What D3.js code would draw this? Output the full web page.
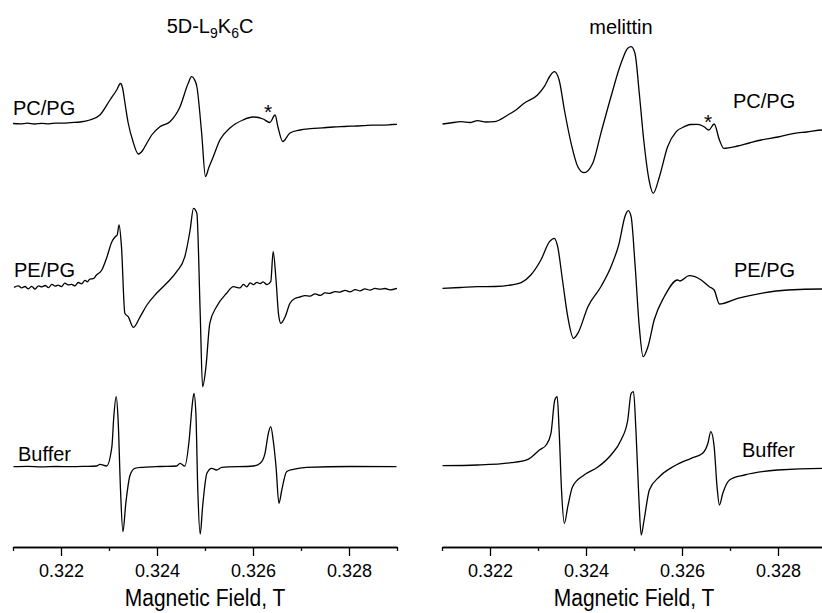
<!DOCTYPE html>
<html>
<head>
<meta charset="UTF-8">
<title>EPR spectra</title>
<script src="https://cdn.jsdelivr.net/npm/d3@7"></script>
<style>
    body { margin: 0; background: #fff; }
    svg { display: block; font-family: Arial, "Liberation Sans", sans-serif; }
    .trace { fill: none; stroke: #000; stroke-width: 1.3; stroke-linejoin: round; }
    .axis path, .axis line { stroke: #000; stroke-width: 1.3; }
    .axis text { font-size: 18px; fill: #000; }
</style>
</head>
<body>
<div id="chart"></div>
<script>
    // field values in T, intensity in arbitrary units (relative to each trace baseline)
    const fieldTicks = [0.322, 0.324, 0.326, 0.328];
    const minorTicks = [0.321, 0.323, 0.325, 0.327, 0.329];
    const seriesNames = ["PC/PG", "PE/PG", "Buffer"];

    const l9k6cPCPG = [[0.32100,0],[0.32115,-0.4],[0.32130,0.3],[0.32145,-0.5],[0.32160,0.2],[0.32175,-0.3],[0.32190,0.4],[0.32205,0.3],[0.32220,0.9],[0.32240,1.5],[0.32260,3.5],[0.32281,8.5],[0.32302,23.5],[0.32316,33.5],[0.32324,40],[0.32328,36],[0.32334,18],[0.32340,0.5],[0.32350,-18],[0.32361,-30.5],[0.32370,-27],[0.32379,-19.5],[0.32389,-11.5],[0.32406,-3.2],[0.32427,1.8],[0.32448,16.8],[0.32465,40.2],[0.32472,46.8],[0.32478,44],[0.32483,37],[0.32493,-9.5],[0.32501,-53],[0.32508,-44],[0.32517,-33.5],[0.32531,-16.5],[0.32552,-4.5],[0.32579,3.5],[0.32600,6.5],[0.32621,4.5],[0.32635,1],[0.32646,8.5],[0.32652,-3.5],[0.32662,-18],[0.32677,-9.5],[0.32698,-6.5],[0.32720,-5.2],[0.32745,-4.3],[0.32767,-3.5],[0.32790,-3.0],[0.32810,-2.6],[0.32830,-2.2],[0.32850,-1.6],[0.32870,-1.6],[0.32890,-1.0],[0.32900,-0.8]];

    const l9k6cPEPG = [[0.32102,-0.3],[0.32111,1.2],[0.32118,-0.8],[0.32125,0.5],[0.32132,-1.9],[0.32139,0.6],[0.32146,-2.1],[0.32153,1.2],[0.32160,0.2],[0.32167,1.5],[0.32174,-0.6],[0.32181,2.6],[0.32188,0.9],[0.32194,1.8],[0.32201,0.4],[0.32208,3.9],[0.32215,2.1],[0.32222,2.6],[0.32229,1.1],[0.32236,4.5],[0.32243,3.2],[0.32250,6.6],[0.32255,5.2],[0.32260,7.9],[0.32267,8.3],[0.32274,12],[0.32285,17],[0.32295,29],[0.32306,45.3],[0.32313,50.3],[0.32317,52],[0.32321,62],[0.32326,40.3],[0.32333,-26.3],[0.32340,-29.7],[0.32351,-40.3],[0.32365,-29.7],[0.32379,-18],[0.32399,-6.3],[0.32420,3.7],[0.32441,15.3],[0.32458,30.3],[0.32469,57],[0.32476,78.7],[0.32483,73.7],[0.32490,-26.3],[0.32495,-99.7],[0.32502,-79.7],[0.32510,-36.3],[0.32524,-19.7],[0.32545,-6.3],[0.32559,0.3],[0.32573,-0.9],[0.32580,2.6],[0.32587,0.2],[0.32594,4.1],[0.32601,2.4],[0.32608,4.6],[0.32615,3.3],[0.32621,5.1],[0.32629,2.4],[0.32637,5.3],[0.32642,35.3],[0.32648,7],[0.32653,-26.3],[0.32658,-36.3],[0.32667,-29.7],[0.32677,-16.3],[0.32688,-11.3],[0.32698,-10],[0.32708,-8.6],[0.32719,-9.2],[0.32729,-6.8],[0.32740,-8.4],[0.32750,-5.9],[0.32760,-6.3],[0.32771,-4.6],[0.32781,-5.1],[0.32792,-3.3],[0.32802,-4.8],[0.32813,-2.6],[0.32823,-3.9],[0.32833,-1.8],[0.32844,-3.2],[0.32854,-1.4],[0.32865,-2.2],[0.32875,-1.5],[0.32885,-2.8],[0.32900,-1.3]];

    const l9k6cBuffer = [[0.32101,0],[0.32130,0.3],[0.32160,-0.2],[0.32190,0.2],[0.32220,0],[0.32250,0.3],[0.32274,0.7],[0.32281,2.4],[0.32295,0.7],[0.32306,20],[0.32310,50],[0.32315,70],[0.32319,46.7],[0.32324,-23.3],[0.32329,-65],[0.32335,-36.6],[0.32344,-8.3],[0.32354,-1.6],[0.32371,-0.6],[0.32406,0.2],[0.32441,0.7],[0.32448,3.4],[0.32458,0.7],[0.32467,26.7],[0.32473,60],[0.32477,73.4],[0.32481,53.4],[0.32485,-23.3],[0.32490,-67.3],[0.32495,-40],[0.32504,-6.6],[0.32514,-1.6],[0.32524,-3.3],[0.32535,-0.6],[0.32601,0.7],[0.32615,3.4],[0.32625,13.4],[0.32632,33.4],[0.32637,40],[0.32642,26.7],[0.32648,0],[0.32654,-36.6],[0.32660,-23.3],[0.32670,-5],[0.32684,-2.6],[0.32712,-0.6],[0.32802,0.2],[0.32899,0]];

    const melittinPCPG = [[0.32101,-0.5],[0.32117,0.5],[0.32140,1.8],[0.32158,1],[0.32174,2.8],[0.32192,1.5],[0.32209,1.8],[0.32237,8.5],[0.32254,13.5],[0.32271,20.2],[0.32299,28.5],[0.32313,36.8],[0.32325,47.5],[0.32334,51.8],[0.32344,43.5],[0.32355,13.5],[0.32369,-19.8],[0.32383,-43.2],[0.32396,-49.2],[0.32414,-39.8],[0.32431,-9.8],[0.32452,26.8],[0.32473,60.2],[0.32487,75.2],[0.32494,76.8],[0.32502,70.2],[0.32511,30.2],[0.32521,-19.8],[0.32532,-58.2],[0.32540,-69.8],[0.32553,-53.2],[0.32570,-23.2],[0.32588,-8.2],[0.32605,-3.2],[0.32617,-1],[0.32633,-0.8],[0.32646,-3.2],[0.32656,-6.5],[0.32667,-0.5],[0.32678,-16.5],[0.32687,-24.8],[0.32716,-22.5],[0.32740,-19.5],[0.32765,-16.5],[0.32800,-13.5],[0.32834,-9.8],[0.32860,-8.5],[0.32892,-6.5],[0.32900,-6.5]];

    const melittinPEPG = [[0.32101,-0.8],[0.32138,0],[0.32174,0.8],[0.32210,1],[0.32244,2.5],[0.32265,4.8],[0.32285,12.5],[0.32306,27.5],[0.32324,45.8],[0.32334,49.2],[0.32341,40.8],[0.32351,7.5],[0.32362,-29.2],[0.32374,-50.8],[0.32383,-45.8],[0.32404,-19.2],[0.32431,0.8],[0.32452,20.8],[0.32469,44.2],[0.32481,70.8],[0.32488,76.8],[0.32494,70.8],[0.32502,24.2],[0.32511,-39.2],[0.32519,-69.2],[0.32529,-59.2],[0.32542,-32.5],[0.32563,-9.2],[0.32591,7.5],[0.32596,6.5],[0.32615,11.8],[0.32640,7.5],[0.32657,0.8],[0.32667,-2.5],[0.32678,-16.5],[0.32716,-10.8],[0.32765,-5.8],[0.32820,-2.5],[0.32892,-1.5],[0.32900,-1.5]];

    const melittinBuffer = [[0.32101,-0.2],[0.32174,0.5],[0.32244,2.8],[0.32279,6.2],[0.32303,15.5],[0.32317,20.5],[0.32327,32.2],[0.32335,65.5],[0.32340,68.8],[0.32344,35.5],[0.32349,-24.5],[0.32355,-57.8],[0.32362,-41.2],[0.32372,-21.2],[0.32396,-9.5],[0.32424,-1.8],[0.32452,10.5],[0.32473,25.5],[0.32487,45.5],[0.32494,72.2],[0.32499,73.8],[0.32504,35.5],[0.32510,-31.2],[0.32515,-69.5],[0.32521,-54.5],[0.32532,-24.5],[0.32553,-11.2],[0.32584,-0.5],[0.32619,7.2],[0.32643,12.2],[0.32654,22.2],[0.32660,33.8],[0.32667,18.8],[0.32673,-21.2],[0.32678,-39.5],[0.32685,-27.8],[0.32699,-14.5],[0.32730,-9.5],[0.32799,-4.5],[0.32892,-2.8],[0.32900,-2.8]];

    // vertical stacking offsets of the three spectra (same arbitrary units)
    const l9k6cOffsets = [423.5, 260, 80.3];
    const melittinOffsets = [423.5, 259.5, 81.5];

    const width = 822, height = 613;
    const svg = d3.select("#chart").append("svg")
        .attr("width", width)
        .attr("height", height);

    const yScale = d3.scaleLinear().domain([0, 540]).range([547, 7]);

    function drawPanel(x0, x1, traces, offsets, labelX, labelY) {
        const xScale = d3.scaleLinear().domain([0.321, 0.329]).range([x0, x1]);
        const g = svg.append("g");

        traces.forEach((tr, i) => {
            const line = d3.line()
                .curve(d3.curveMonotoneX)
                .x(d => xScale(d[0]))
                .y(d => yScale(d[1] + offsets[i]));
            g.append("path").attr("class", "trace").attr("d", line(tr));
            g.append("text")
                .attr("x", labelX[i]).attr("y", labelY[i])
                .style("font-size", "20px")
                .text(seriesNames[i]);
        });

        const axisY = yScale(0);
        g.append("g").attr("class", "axis")
            .attr("transform", `translate(0,${axisY})`)
            .call(d3.axisBottom(xScale).tickValues(fieldTicks).tickSize(9).tickSizeOuter(0)
                .tickPadding(8).tickFormat(d3.format(".3f")));
        g.append("g").attr("class", "axis")
            .attr("transform", `translate(0,${axisY})`)
            .call(d3.axisBottom(xScale).tickValues(minorTicks).tickSize(4).tickSizeOuter(0).tickFormat(""));

        g.append("text")
            .attr("transform", `translate(${(x0 + x1) / 2},606) scale(1,1.15)`)
            .attr("text-anchor", "middle")
            .style("font-size", "21px")
            .text("Magnetic Field, T");
    }

    drawPanel(13, 397, [l9k6cPCPG, l9k6cPEPG, l9k6cBuffer], l9k6cOffsets, [13, 14, 18], [115, 277, 461]);
    drawPanel(442, 826, [melittinPCPG, melittinPEPG, melittinBuffer], melittinOffsets, [733, 734, 742], [108, 277, 457]);

    // panel titles
    const t1 = svg.append("text").attr("x", 210).attr("y", 33).attr("text-anchor", "middle").style("font-size", "20px");
    t1.append("tspan").text("5D-L");
    t1.append("tspan").attr("dy", 5).style("font-size", "14px").text("9");
    t1.append("tspan").attr("dy", -5).text("K");
    t1.append("tspan").attr("dy", 5).style("font-size", "14px").text("6");
    t1.append("tspan").attr("dy", -5).text("C");

    svg.append("text").attr("x", 621).attr("y", 34).attr("text-anchor", "middle")
        .style("font-size", "20px").text("melittin");

    // asterisks marking the extra line
    svg.append("text").attr("x", 268).attr("y", 119).attr("text-anchor", "middle")
        .style("font-size", "21px").text("*");
    svg.append("text").attr("x", 708).attr("y", 129).attr("text-anchor", "middle")
        .style("font-size", "21px").text("*");
</script>
</body>
</html>
